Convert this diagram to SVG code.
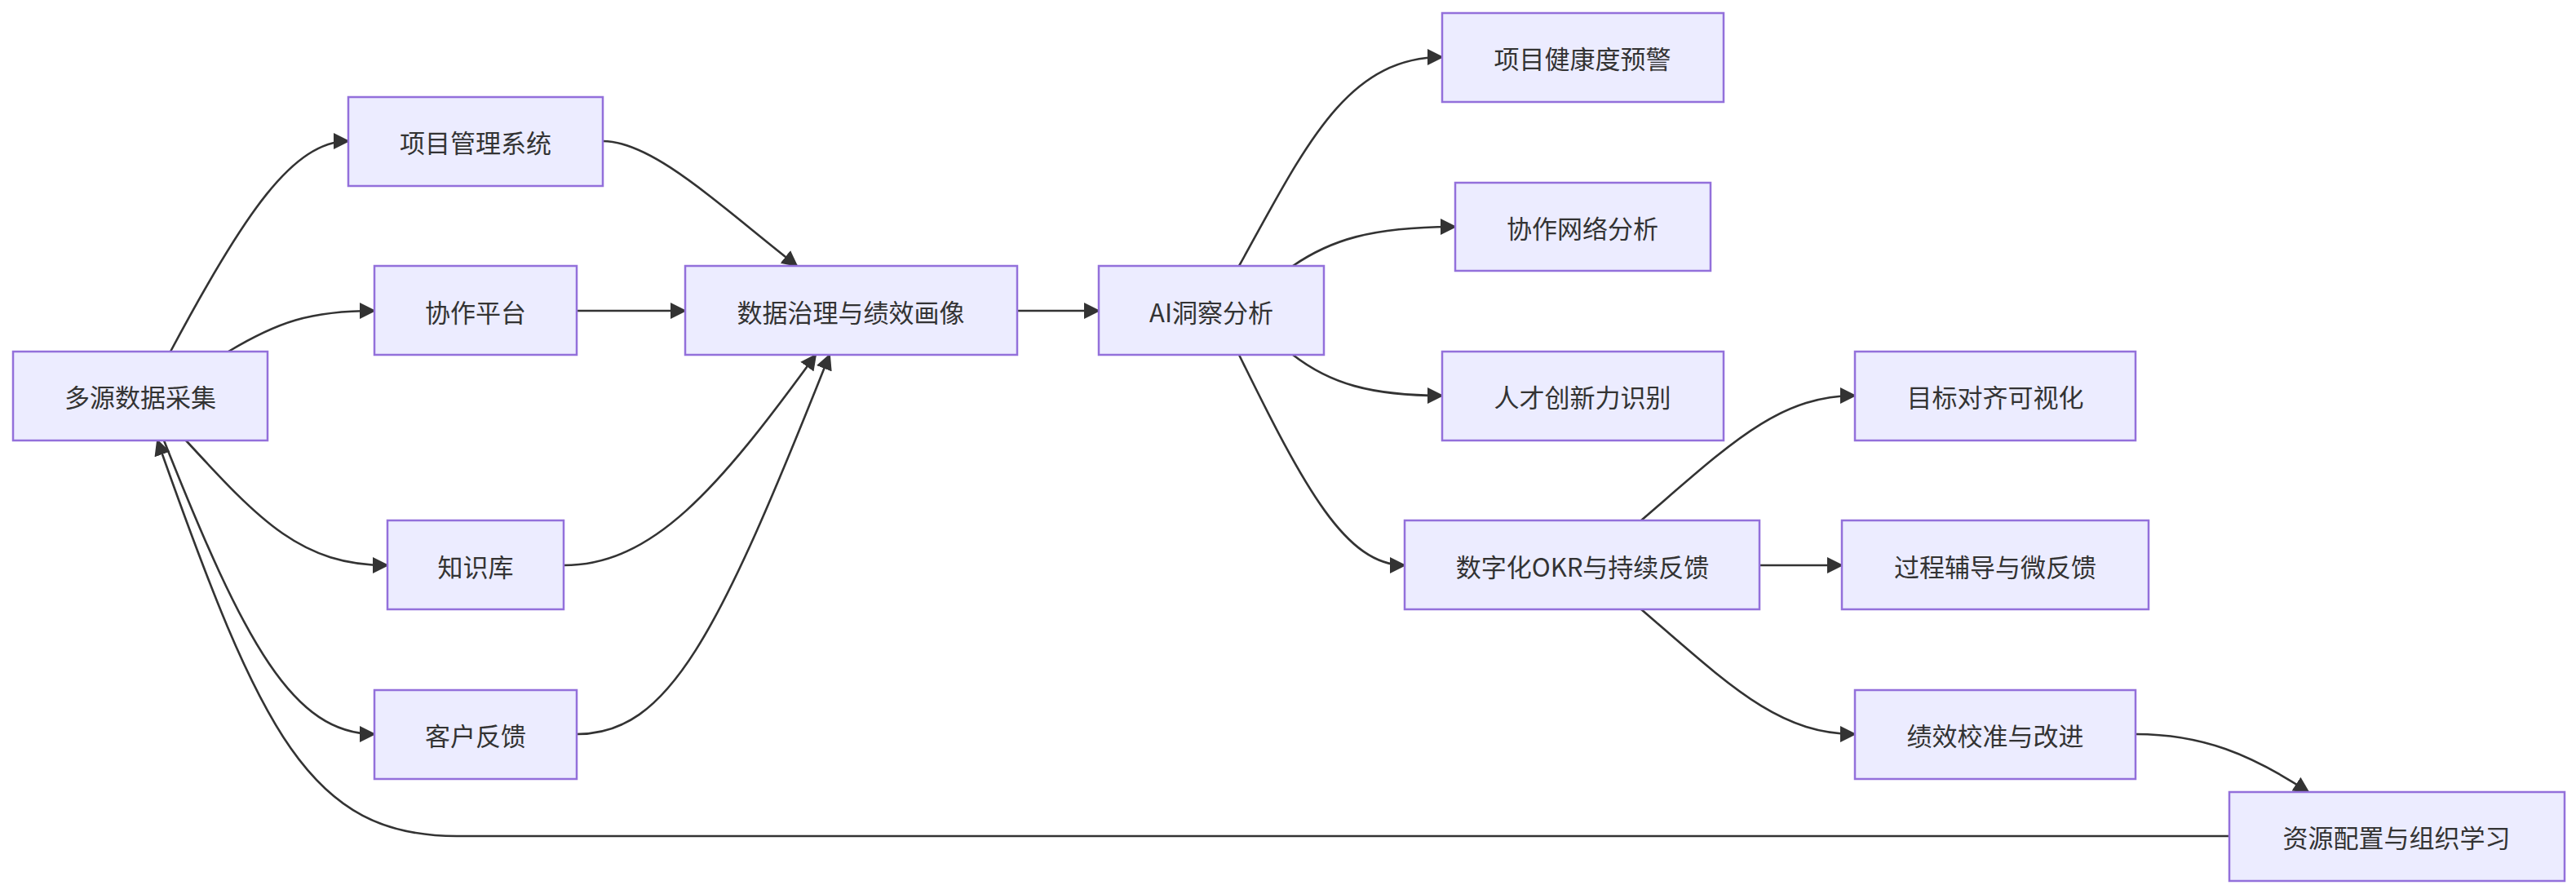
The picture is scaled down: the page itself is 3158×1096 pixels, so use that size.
<svg xmlns="http://www.w3.org/2000/svg" width="3158" height="1096" viewBox="0 0 3158 1096">
<style>
.n rect{fill:#ECECFF;stroke:#9370DB;stroke-width:2.5}
.n text{font-family:"Noto Sans CJK SC","Liberation Sans",sans-serif;font-size:31px;fill:#333;text-anchor:middle;dominant-baseline:central}
#edges path{fill:none;stroke:#333;stroke-width:2.6;marker-end:url(#a)}
</style>
<defs><marker id="a" markerUnits="userSpaceOnUse" markerWidth="20" markerHeight="20" refX="18" refY="10" orient="auto"><path d="M0,0 L20,10 L0,20 z" fill="#333"/></marker></defs>
<rect width="3158" height="1096" fill="#fff"/>
<g id="edges">
<path d="M209,431 C300,260 360,173 427,173"/>
<path d="M280,431 C340,395 380,381 459,381"/>
<path d="M228,540 C320,640 370,693 475,693"/>
<path d="M201,540 C300,790 360,900 459,900"/>
<path d="M2733,1025 L560,1025 C380,1025 320,900 193,540"/>
<path d="M739,173 C800,173 880,250 977,326"/>
<path d="M707,381 L840,381"/>
<path d="M691,693 C800,693 880,600 1000,435"/>
<path d="M707,900 C820,900 880,780 1017,435"/>
<path d="M1247,381 L1347,381"/>
<path d="M1519,326 C1600,180 1650,70 1768,70"/>
<path d="M1585,326 C1630,295 1680,278 1784,278"/>
<path d="M1585,435 C1630,470 1680,485 1768,485"/>
<path d="M1519,435 C1600,600 1650,693 1722,693"/>
<path d="M2012,638 C2120,545 2180,485 2274,485"/>
<path d="M2157,693 L2258,693"/>
<path d="M2012,747 C2120,840 2180,900 2274,900"/>
<path d="M2618,900 C2700,900 2760,925 2830,971"/>
</g>
<g id="n1" class="n"><rect x="16" y="431" width="312" height="109"/><text x="172" y="485">多源数据采集</text></g>
<g id="n2" class="n"><rect x="427" y="119" width="312" height="109"/><text x="583" y="173">项目管理系统</text></g>
<g id="n3" class="n"><rect x="459" y="326" width="248" height="109"/><text x="583" y="381">协作平台</text></g>
<g id="n4" class="n"><rect x="475" y="638" width="216" height="109"/><text x="583" y="693">知识库</text></g>
<g id="n5" class="n"><rect x="459" y="846" width="248" height="109"/><text x="583" y="900">客户反馈</text></g>
<g id="n6" class="n"><rect x="840" y="326" width="407" height="109"/><text x="1043" y="381">数据治理与绩效画像</text></g>
<g id="n7" class="n"><rect x="1347" y="326" width="276" height="109"/><text x="1485" y="381">AI洞察分析</text></g>
<g id="n8" class="n"><rect x="1768" y="16" width="345" height="109"/><text x="1940" y="70">项目健康度预警</text></g>
<g id="n9" class="n"><rect x="1784" y="224" width="313" height="108"/><text x="1940" y="278">协作网络分析</text></g>
<g id="n10" class="n"><rect x="1768" y="431" width="345" height="109"/><text x="1940" y="485">人才创新力识别</text></g>
<g id="n11" class="n"><rect x="1722" y="638" width="435" height="109"/><text x="1940" y="693">数字化OKR与持续反馈</text></g>
<g id="n12" class="n"><rect x="2274" y="431" width="344" height="109"/><text x="2446" y="485">目标对齐可视化</text></g>
<g id="n13" class="n"><rect x="2258" y="638" width="376" height="109"/><text x="2446" y="693">过程辅导与微反馈</text></g>
<g id="n14" class="n"><rect x="2274" y="846" width="344" height="109"/><text x="2446" y="900">绩效校准与改进</text></g>
<g id="n15" class="n"><rect x="2733" y="971" width="411" height="109"/><text x="2938" y="1025">资源配置与组织学习</text></g>
</svg>
